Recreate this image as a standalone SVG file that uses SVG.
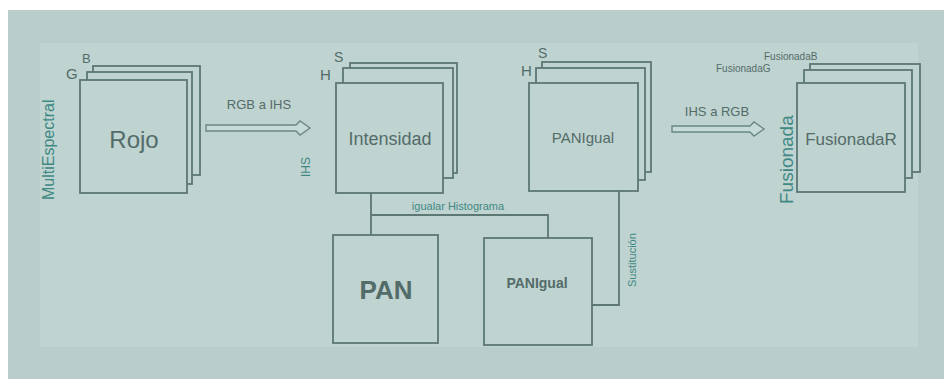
<svg xmlns="http://www.w3.org/2000/svg" width="944" height="379" viewBox="0 0 944 379">
<style>
.box{fill:#bfd3d0;stroke:#5c7774;stroke-width:1.8}
.ln{fill:none;stroke:#5c7774;stroke-width:1.8}
.t{font-family:"Liberation Sans",Arial,sans-serif;fill:#536c69}
.tl{font-family:"Liberation Sans",Arial,sans-serif;fill:#3f8984}
.arr{fill:#c6dad7;stroke:#6b8784;stroke-width:1.4}
</style>
<rect x="0" y="0" width="944" height="379" fill="#ffffff"/>
<rect x="8" y="10" width="936" height="369" fill="#b9cecb"/>
<rect x="40" y="43" width="878" height="304" fill="#bfd3d0"/>

<g id="multiespectral">
<rect class="box" x="93" y="66" width="107" height="109"/>
<rect class="box" x="87" y="72" width="105" height="112"/>
<rect class="box" x="80" y="80" width="107" height="113"/>
<text class="t" x="134" y="148" font-size="24" text-anchor="middle">Rojo</text>
<text class="t" x="66" y="79" font-size="15">G</text>
<text class="t" x="82" y="63" font-size="13">B</text>
<text class="tl" x="0" y="0" font-size="16" transform="translate(54,200) rotate(-90)">MultiEspectral</text>
</g>

<g id="intensidad">
<rect class="box" x="350" y="63" width="107" height="110"/>
<rect class="box" x="343" y="68" width="110" height="110"/>
<rect class="box" x="336" y="83" width="107" height="110"/>
<text class="t" x="390" y="145" font-size="18" text-anchor="middle">Intensidad</text>
<text class="t" x="320" y="80" font-size="15">H</text>
<text class="t" x="334" y="62" font-size="14">S</text>
</g>

<g id="panigual-ihs">
<rect class="box" x="542" y="62" width="109" height="110"/>
<rect class="box" x="536" y="68" width="109" height="112"/>
<rect class="box" x="529" y="83" width="109" height="108"/>
<text class="t" x="583" y="143" font-size="15" text-anchor="middle">PANIgual</text>
<text class="t" x="521" y="76" font-size="15">H</text>
<text class="t" x="538" y="58" font-size="14">S</text>
</g>

<g id="fusionada">
<rect class="box" x="810" y="64" width="110" height="108"/>
<rect class="box" x="804" y="70" width="108" height="108"/>
<rect class="box" x="797" y="83" width="108" height="109"/>
<text class="t" x="851" y="145" font-size="17" text-anchor="middle">FusionadaR</text>
<text class="t" x="716" y="72" font-size="10">FusionadaG</text>
<text class="t" x="764" y="60" font-size="10">FusionadaB</text>
<text class="tl" x="0" y="0" font-size="19" transform="translate(793,204) rotate(-90)">Fusionada</text>
</g>

<g id="pan">
<rect class="box" x="333" y="235" width="105" height="108"/>
<text class="t" x="386" y="299" font-size="26" font-weight="bold" text-anchor="middle">PAN</text>
</g>

<g id="panigual">
<rect class="box" x="484" y="238" width="108" height="107"/>
<text class="t" x="537" y="288" font-size="14" font-weight="bold" text-anchor="middle">PANIgual</text>
</g>

<g id="connectors">
<path class="arr" d="M206,125 H296 L300,121 L310,128 L300,135 L296,131 H206 Z"/>
<text class="t" x="259" y="109" font-size="13" text-anchor="middle">RGB a IHS</text>
<text class="tl" x="0" y="0" font-size="12" transform="translate(310,177) rotate(-90)">IHS</text>
<path class="arr" d="M672,126 H750 L754,122 L764,129 L754,136 L750,132 H672 Z"/>
<text class="t" x="717" y="116" font-size="13" text-anchor="middle">IHS a RGB</text>
<path class="ln" d="M371,193 V235 M371,215 H548 V238"/>
<text class="tl" x="458" y="210" font-size="11" text-anchor="middle">igualar Histograma</text>
<path class="ln" d="M619,191 V305 H592"/>
<text class="tl" x="0" y="0" font-size="11" transform="translate(636,287) rotate(-90)">Sustitución</text>
</g>
</svg>
